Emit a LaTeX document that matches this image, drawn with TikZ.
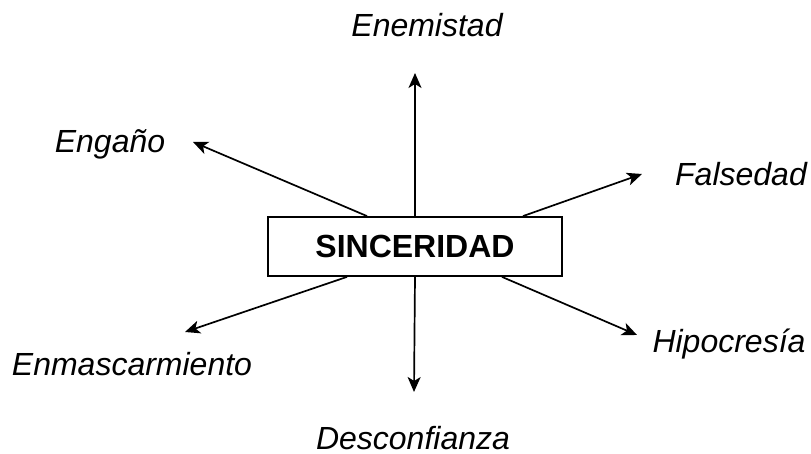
\documentclass[tikz,border=0pt]{standalone}
\usepackage{fontspec}
\setmainfont{Liberation Sans}
\usepackage{tikz}
\usetikzlibrary{arrows.meta,%
                shapes,positioning}

\tikzset{word/.style={anchor=base,font=\fontsize{16}{19}\selectfont\itshape},
         centre/.style={draw,line width=0.9pt,minimum width=147pt,minimum height=29.5pt,
                        inner sep=0pt,font=\fontsize{16}{19}\selectfont\bfseries},
         arr/.style={line width=0.85pt,-{Stealth[length=7.5pt,width=6.5pt,inset=2pt]}}}

\begin{document}
\begin{tikzpicture}[x=0.5pt,y=0.5pt]
\useasboundingbox (0,0) rectangle (811,454);
\node[centre] (sinc) at (415,207.5) {SINCERIDAD};

\node[word] (enem) at (427,417) {Enemistad};
\node[word] (enga) at (110,301) {Engaño};
\node[word] (fals) at (741,268) {Falsedad};
\node[word] (hipo) at (729,101) {Hipocresía};
\node[word] (enma) at (132,78) {Enmascarmiento};
\node[word] (desc) at (413,4) {Desconfianza};

\coordinate (tenem) at (415,381);
\coordinate (tenga) at (193,312);
\coordinate (tfals) at (642,280);
\coordinate (thipo) at (637,119);
\coordinate (tenma) at (185,122);
\coordinate (tdesc) at (414,62);

\draw[arr] (sinc.north) -- (tenem);
\draw[arr] ([xshift=-24pt]sinc.north) -- (tenga);
\draw[arr] ([xshift=54pt]sinc.north) -- (tfals);
\draw[arr] ([xshift=43.5pt]sinc.south) -- (thipo);
\draw[arr] ([xshift=-34pt]sinc.south) -- (tenma);
\draw[arr] (sinc.south) -- (tdesc);

\end{tikzpicture}
\end{document}
